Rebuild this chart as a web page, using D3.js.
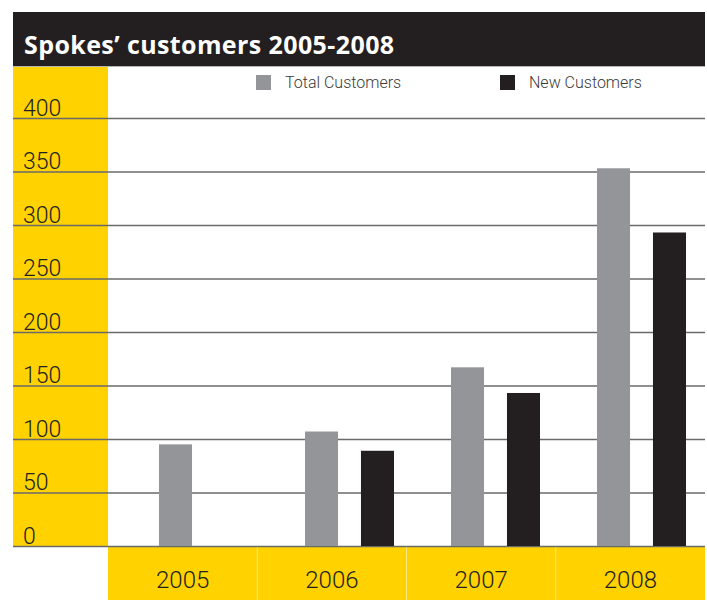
<!DOCTYPE html>
<html>
<head>
<meta charset="utf-8">
<title>Spokes' customers 2005-2008</title>
<style>
    body { margin: 0; background: #fff; }
    svg { font-family: Roboto, "Liberation Sans", sans-serif; }
    .grid line { stroke: #6a6a6a; stroke-width: 1.5; }
    .grid path { display: none; }
    .grid text { fill: #231f20; font-size: 23px; font-weight: 300; font-family: Roboto, sans-serif; }
    .xaxis path, .xaxis line { display: none; }
    .xaxis text { fill: #231f20; font-size: 24px; font-weight: 300; font-family: Roboto, sans-serif; }
    .legend text { fill: #3a3a3a; font-size: 16px; font-weight: 300; }
</style>
</head>
<body>
<script src="https://cdn.jsdelivr.net/npm/d3@7"></script>
<script>
    // data
    var years = ["2005", "2006", "2007", "2008"];
    var series = ["Total Customers", "New Customers"];
    var totalCustomers = [95, 107, 167, 353];
    var newCustomers = [null, 89, 143, 293];
    var yTicks = [0, 50, 100, 150, 200, 250, 300, 350, 400];

    var colors = { "Total Customers": "#939598", "New Customers": "#231f20" };
    var yellow = "#ffd200";

    var frameLeft = 13, frameRight = 705, plotLeft = 108,
        frameTop = 12, headerBottom = 66, baseY = 546, frameBottom = 600;

    var svg = d3.select("body").append("svg")
        .attr("width", 707)
        .attr("height", 600);

    // scales
    var y = d3.scaleLinear().domain([0, 400]).range([baseY, 118]);
    var x0 = d3.scaleBand().domain(years).range([plotLeft, frameRight]);
    // bar groups sit on a slightly tighter step than the label bands
    var xBars = d3.scaleBand().domain(years).range([113, 697]);
    var x1 = d3.scaleBand().domain(series).range([46, 135]).paddingInner(0.41).paddingOuter(0);

    // yellow panels
    svg.append("rect")
        .attr("x", frameLeft).attr("y", headerBottom)
        .attr("width", plotLeft - frameLeft).attr("height", baseY - headerBottom)
        .attr("fill", yellow);
    svg.append("rect")
        .attr("x", plotLeft).attr("y", baseY)
        .attr("width", frameRight - plotLeft).attr("height", frameBottom - baseY)
        .attr("fill", yellow);

    // faint separators between year bands
    svg.selectAll(".sep")
        .data(years.slice(1))
        .enter().append("line")
        .attr("class", "sep")
        .attr("x1", function(d) { return x0(d); })
        .attr("x2", function(d) { return x0(d); })
        .attr("y1", baseY).attr("y2", frameBottom)
        .attr("stroke", "#ffe680").attr("stroke-width", 1);

    // header
    svg.append("rect")
        .attr("x", frameLeft).attr("y", frameTop)
        .attr("width", frameRight - frameLeft).attr("height", headerBottom - frameTop)
        .attr("fill", "#231f20");
    svg.append("line")
        .attr("x1", frameLeft).attr("x2", frameRight)
        .attr("y1", headerBottom + 0.5).attr("y2", headerBottom + 0.5)
        .attr("stroke", "#b5b5b5");
    svg.append("text")
        .attr("x", 24).attr("y", 54)
        .attr("fill", "#fff")
        .style("font-family", "'Open Sans', 'Liberation Sans', sans-serif")
        .style("font-weight", "700")
        .style("font-size", "25px")
        .style("letter-spacing", "0.4px")
        .text("Spokes\u2019 customers 2005-2008");

    // gridlines + y labels
    var grid = svg.append("g")
        .attr("class", "grid")
        .attr("transform", "translate(" + frameRight + ",0)")
        .call(d3.axisLeft(y).tickValues(yTicks).tickSize(frameRight - frameLeft));
    grid.selectAll("text")
        .attr("x", -(frameRight - frameLeft) + 10)
        .attr("dy", "-3")
        .style("text-anchor", "start");

    // bars
    var rows = years.map(function(yr, i) {
        return { year: yr, values: [
            { key: series[0], value: totalCustomers[i] },
            { key: series[1], value: newCustomers[i] }
        ] };
    });

    svg.append("g").selectAll("g")
        .data(rows)
        .enter().append("g")
        .attr("transform", function(d) { return "translate(" + xBars(d.year) + ",0)"; })
        .selectAll("rect")
        .data(function(d) { return d.values.filter(function(v) { return v.value != null; }); })
        .enter().append("rect")
        .attr("x", function(d) { return x1(d.key); })
        .attr("width", x1.bandwidth())
        .attr("y", function(d) { return y(d.value); })
        .attr("height", function(d) { return baseY - y(d.value); })
        .attr("fill", function(d) { return colors[d.key]; });

    // x axis labels
    var xa = svg.append("g")
        .attr("class", "xaxis")
        .attr("transform", "translate(0," + baseY + ")")
        .call(d3.axisBottom(x0).tickSize(0));
    xa.selectAll("text").attr("y", 42).attr("dy", 0);

    // legend
    var legendX = [256, 500];
    var legend = svg.append("g").attr("class", "legend")
        .selectAll("g")
        .data(series)
        .enter().append("g")
        .attr("transform", function(d, i) { return "translate(" + legendX[i] + ",75)"; });
    legend.append("rect")
        .attr("width", 15).attr("height", 15)
        .attr("fill", function(d) { return colors[d]; });
    legend.append("text")
        .attr("x", 29).attr("y", 13)
        .text(function(d) { return d; });
</script>
</body>
</html>
